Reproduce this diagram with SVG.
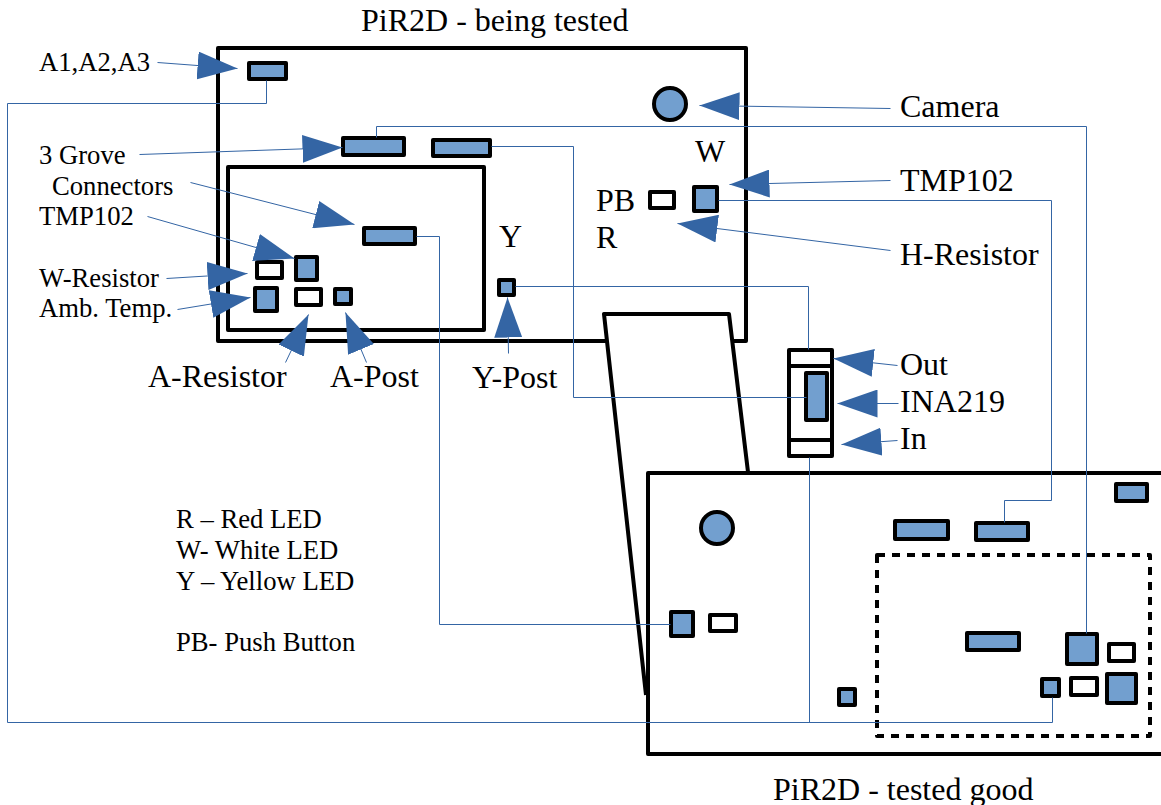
<svg xmlns="http://www.w3.org/2000/svg" width="1161" height="805" viewBox="0 0 1161 805">
<style>
.board{fill:none;stroke:#000;stroke-width:4;stroke-linejoin:round}
.part{fill:#729fcf;stroke:#000;stroke-width:4;stroke-linejoin:round}
.open{fill:#fff;stroke:#000;stroke-width:4;stroke-linejoin:round}
.blank{fill:#fff;stroke:none}
.wire{fill:none;stroke:#3465a4;stroke-width:1}
.lead{fill:none;stroke:#3465a4;stroke-width:1;marker-end:url(#tri)}
text{font-family:"Liberation Serif","Times New Roman",serif;fill:#000}
.s{font-size:26.67px}
.l{font-size:32px}
</style>
<defs>
<marker id="tri" markerUnits="userSpaceOnUse" markerWidth="40" markerHeight="28" viewBox="0 0 40 28" refX="40" refY="14" orient="auto">
<path d="M0,0L40,14L0,28Z" fill="#3465a4"/>
</marker>
</defs>
<rect width="1161" height="805" fill="#fff"/>
<g id="board-tested">
<path class="board" d="M606,341H218V48H746V341H733"/>
<rect class="board" x="228" y="167" width="256" height="163"/>
<circle class="part" cx="670" cy="104" r="16"/>
<rect class="part" x="249" y="63" width="37" height="16"/>
<rect class="part" x="343" y="138" width="61" height="17"/>
<rect class="part" x="433" y="140" width="57" height="16"/>
<rect class="part" x="364" y="228" width="51" height="16"/>
<rect class="part" x="296" y="257" width="21" height="23"/>
<rect class="open" x="257" y="262" width="25" height="16"/>
<rect class="part" x="255" y="288" width="22" height="23"/>
<rect class="open" x="296" y="289" width="25" height="16"/>
<rect class="part" x="335" y="289" width="16" height="15"/>
<rect class="part" x="499" y="280" width="15" height="15"/>
<rect class="open" x="650" y="192" width="24" height="16"/>
<rect class="part" x="694" y="187" width="23" height="24"/>
</g>
<g id="ribbon">
<path class="blank" d="M604,314H729L748,472H648V695H646Z"/>
<path class="board" d="M646,695L604,314H729L748,472"/>
</g>
<g id="board-good">
<path class="board" d="M1161,473H648V754H1161"/>
<rect class="board" x="877" y="555" width="273" height="181" stroke-dasharray="8 7"/>
<circle class="part" cx="717" cy="528" r="16"/>
<rect class="part" x="671" y="612" width="22" height="24"/>
<rect class="open" x="710" y="615" width="26" height="16"/>
<rect class="part" x="1116" y="484" width="31" height="17"/>
<rect class="part" x="895" y="521" width="53" height="18"/>
<rect class="part" x="976" y="523" width="52" height="17"/>
<rect class="part" x="967" y="633" width="52" height="17"/>
<rect class="part" x="1067" y="634" width="30" height="30"/>
<rect class="open" x="1109" y="644" width="25" height="17"/>
<rect class="part" x="1042" y="679" width="17" height="17"/>
<rect class="open" x="1071" y="678" width="26" height="17"/>
<rect class="part" x="1107" y="674" width="29" height="29"/>
<rect class="part" x="839" y="689" width="16" height="16"/>
</g>
<g id="ina219">
<rect class="open" x="789" y="350" width="43" height="106"/>
<path class="board" d="M789,366H832M789,440H832"/>
<rect class="part" x="806" y="373" width="21" height="47"/>
</g>
<g id="connectors" transform="translate(0.5 0.5)">
<path class="wire" d="M266,80V103H7V722H1052V697"/>
<path class="wire" d="M376,137V126H1086V633"/>
<path class="wire" d="M491,146H573V397H806"/>
<path class="wire" d="M416,236H439V624H670"/>
<path class="wire" d="M718,200H1051V500H1004V522"/>
<path class="wire" d="M515,286H808V349"/>
<path class="wire" d="M809,457V722"/>
<path class="lead" d="M157,62L237,68"/>
<path class="lead" d="M139,154L342,147"/>
<path class="lead" d="M190,182L354,224"/>
<path class="lead" d="M147,216L294,258"/>
<path class="lead" d="M166,278L247,273"/>
<path class="lead" d="M177,309L250,297"/>
<path class="lead" d="M285,362L308,314"/>
<path class="lead" d="M366,362L345,312"/>
<path class="lead" d="M508,353L507,297"/>
<path class="lead" d="M897,365L833,358"/>
<path class="lead" d="M898,403H837"/>
<path class="lead" d="M897,440L841,444"/>
<path class="lead" d="M890,108L699,105"/>
<path class="lead" d="M890,180L729,184"/>
<path class="lead" d="M890,250L677,223"/>
</g>
<g id="labels">
<text class="l" x="361" y="31">PiR2D - being tested</text>
<text class="s" x="39" y="71">A1,A2,A3</text>
<text class="s" x="39" y="164">3 Grove</text>
<text class="s" x="52" y="195">Connectors</text>
<text class="s" x="39" y="225">TMP102</text>
<text class="s" x="39" y="287">W-Resistor</text>
<text class="s" x="39" y="317">Amb. Temp.</text>
<text class="l" x="148" y="387">A-Resistor</text>
<text class="l" x="330" y="387">A-Post</text>
<text class="l" x="472" y="388">Y-Post</text>
<text class="l" x="499" y="247">Y</text>
<text class="l" x="695" y="162">W</text>
<text class="l" x="596" y="211">PB</text>
<text class="l" x="596" y="248">R</text>
<text class="l" x="900" y="117">Camera</text>
<text class="l" x="900" y="191">TMP102</text>
<text class="l" x="900" y="265">H-Resistor</text>
<text class="l" x="900" y="375">Out</text>
<text class="l" x="900" y="412">INA219</text>
<text class="l" x="900" y="449">In</text>
<text class="s" x="176" y="528">R – Red LED</text>
<text class="s" x="176" y="559">W- White LED</text>
<text class="s" x="176" y="590">Y – Yellow LED</text>
<text class="s" x="176" y="651">PB- Push Button</text>
<text class="l" x="773" y="800">PiR2D - tested good</text>
</g>
</svg>
